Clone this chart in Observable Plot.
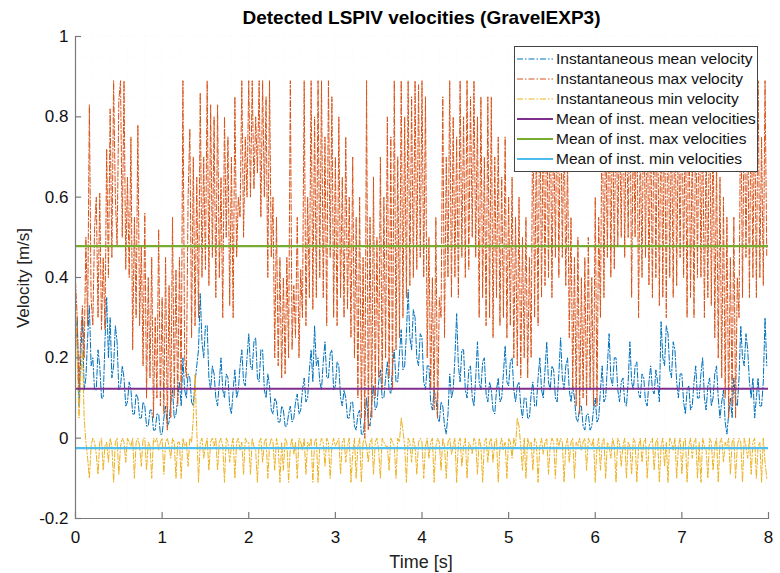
<!DOCTYPE html>
<html>
<head>
<meta charset="utf-8">
<script src="https://cdn.jsdelivr.net/npm/d3@7"></script>
<script src="https://cdn.jsdelivr.net/npm/@observablehq/plot@0.6"></script>
<style>
  html, body { margin: 0; padding: 0; background: #fff; }
  body { font-family: "Liberation Sans", Arial, Helvetica, sans-serif; }
  #wrap { position: relative; width: 780px; height: 573px; }
  #title { position: absolute; left: 75px; width: 693px; top: 7px; text-align: center; font-weight: bold; font-size: 19px; color: #000; }
  #ylab { position: absolute; left: 24px; top: 278px; transform: translate(-50%, -50%) rotate(-90deg); font-size: 17px; color: #222; white-space: nowrap; }
  #xlab { position: absolute; left: 421px; top: 562px; transform: translate(-50%, -50%); font-size: 18px; color: #222; white-space: nowrap; }
  #legend { position: absolute; left: 514px; top: 46px; width: 244px; background: #fff; border: 1px solid #444; padding: 2px 0; box-sizing: border-box; }
  .row { display: flex; align-items: center; height: 20px; font-size: 15.5px; color: #111; white-space: nowrap; }
  .row svg { margin-left: 2px; margin-right: 3px; }
</style>
</head>
<body>
<div id="wrap">
  <div id="chart"></div>
  <div id="title"></div>
  <div id="ylab"></div>
  <div id="xlab"></div>
  <div id="legend"></div>
</div>
<script>
// ---- Data ----
const titleText = "Detected LSPIV velocities (GravelEXP3)";
const xLabel = "Time [s]";
const yLabel = "Velocity [m/s]";

const t0 = 0;      // first sample time [s]
const dt = 0.02;   // sample spacing [s]

const instMean = [
  0.22,0.30,0.08,0.20,0.30,0.12,0.15,0.25,0.33,0.18,0.20,0.12,0.12,0.22,0.18,0.10,0.10,0.24,0.35,0.20,
  0.30,0.15,0.18,0.28,0.24,0.12,0.13,0.18,0.15,0.08,0.09,0.14,0.12,0.06,0.06,0.11,0.10,0.05,0.05,0.09,
  0.08,0.03,0.03,0.07,0.07,0.02,0.02,0.06,0.06,0.01,0.01,0.05,0.08,0.03,0.04,0.09,0.12,0.05,0.06,0.10,
  0.14,0.08,0.20,0.12,0.10,0.16,0.15,0.09,0.08,0.14,0.18,0.22,0.36,0.24,0.20,0.28,0.28,0.15,0.12,0.18,
  0.16,0.10,0.08,0.14,0.20,0.12,0.10,0.16,0.15,0.08,0.06,0.12,0.17,0.10,0.12,0.18,0.22,0.14,0.13,0.20,
  0.26,0.18,0.17,0.24,0.25,0.15,0.14,0.22,0.22,0.12,0.10,0.16,0.13,0.07,0.06,0.10,0.09,0.04,0.04,0.08,
  0.07,0.03,0.03,0.06,0.08,0.04,0.05,0.09,0.11,0.06,0.07,0.12,0.15,0.09,0.10,0.17,0.22,0.14,0.28,0.18,
  0.20,0.14,0.12,0.19,0.24,0.15,0.15,0.21,0.22,0.12,0.13,0.19,0.18,0.10,0.08,0.12,0.10,0.05,0.05,0.09,
  0.09,0.03,0.02,0.06,0.07,0.01,0.01,0.05,0.10,0.04,0.03,0.09,0.13,0.07,0.08,0.14,0.17,0.10,0.10,0.15,
  0.19,0.12,0.11,0.18,0.22,0.14,0.14,0.21,0.27,0.17,0.18,0.26,0.37,0.25,0.22,0.32,0.30,0.20,0.18,0.26,
  0.25,0.14,0.12,0.18,0.18,0.09,0.07,0.12,0.10,0.05,0.04,0.09,0.08,0.03,0.01,0.06,0.16,0.10,0.12,0.20,
  0.31,0.18,0.14,0.22,0.22,0.12,0.10,0.17,0.18,0.10,0.08,0.15,0.24,0.14,0.12,0.19,0.20,0.11,0.09,0.14,
  0.12,0.07,0.06,0.12,0.15,0.09,0.10,0.16,0.23,0.14,0.13,0.19,0.20,0.12,0.09,0.13,0.14,0.08,0.05,0.10,
  0.10,0.05,0.05,0.11,0.14,0.08,0.08,0.15,0.20,0.12,0.10,0.17,0.24,0.14,0.12,0.18,0.17,0.10,0.09,0.16,
  0.25,0.15,0.12,0.18,0.20,0.12,0.09,0.13,0.10,0.05,0.04,0.08,0.08,0.03,0.02,0.06,0.06,0.02,0.03,0.07,
  0.10,0.04,0.05,0.12,0.18,0.09,0.10,0.18,0.26,0.15,0.13,0.20,0.20,0.12,0.09,0.14,0.15,0.09,0.08,0.14,
  0.24,0.14,0.12,0.18,0.19,0.11,0.10,0.16,0.15,0.09,0.08,0.14,0.18,0.12,0.11,0.17,0.14,0.09,0.29,0.20,
  0.18,0.28,0.26,0.17,0.15,0.24,0.22,0.14,0.10,0.16,0.16,0.09,0.06,0.12,0.13,0.07,0.08,0.14,0.18,0.10,
  0.10,0.16,0.20,0.10,0.07,0.13,0.15,0.08,0.10,0.16,0.18,0.10,0.05,0.09,0.12,0.04,0.01,0.06,0.10,0.05,
  0.15,0.09,0.08,0.15,0.28,0.20,0.18,0.26,0.22,0.14,0.10,0.15,0.05,0.10,0.15,0.08,0.08,0.14,0.30,0.18
];

const instMax = [
  0.39,0.30,0.12,0.25,0.33,0.20,0.50,0.28,0.83,0.35,0.28,0.52,0.60,0.30,0.61,0.27,0.45,0.27,0.72,0.40,
  0.82,0.45,0.89,0.60,0.48,0.84,0.89,0.50,0.89,0.42,0.65,0.40,0.75,0.22,0.55,0.30,0.78,0.28,0.48,0.18,
  0.56,0.10,0.40,0.15,0.45,0.05,0.30,0.10,0.52,0.08,0.35,0.06,0.45,0.02,0.38,0.05,0.55,0.10,0.42,0.08,
  0.45,0.12,0.89,0.20,0.15,0.60,0.77,0.25,0.70,0.28,0.65,0.30,0.86,0.40,0.70,0.42,0.89,0.38,0.83,0.45,
  0.80,0.35,0.83,0.40,0.65,0.30,0.80,0.50,0.75,0.33,0.70,0.30,0.85,0.45,0.60,0.55,0.89,0.50,0.75,0.60,
  0.89,0.60,0.89,0.62,0.80,0.66,0.89,0.55,0.89,0.60,0.85,0.40,0.89,0.45,0.60,0.20,0.55,0.18,0.45,0.15,
  0.40,0.16,0.45,0.20,0.89,0.22,0.38,0.25,0.55,0.20,0.42,0.30,0.89,0.28,0.60,0.35,0.89,0.32,0.80,0.35,
  0.89,0.40,0.89,0.35,0.75,0.28,0.89,0.45,0.85,0.30,0.70,0.28,0.80,0.35,0.65,0.30,0.75,0.32,0.60,0.25,
  0.70,0.20,0.55,0.10,0.60,0.05,0.45,0.00,0.89,0.02,0.55,0.05,0.65,0.10,0.50,0.15,0.70,0.12,0.60,0.20,
  0.80,0.15,0.75,0.12,0.89,0.22,0.70,0.25,0.89,0.30,0.80,0.35,0.89,0.38,0.85,0.40,0.89,0.42,0.88,0.45,
  0.89,0.40,0.85,0.20,0.50,0.12,0.40,0.07,0.55,0.05,0.35,0.30,0.85,0.25,0.70,0.40,0.89,0.35,0.80,0.40,
  0.75,0.35,0.89,0.45,0.80,0.40,0.89,0.42,0.85,0.50,0.89,0.45,0.80,0.30,0.85,0.35,0.70,0.28,0.85,0.30,
  0.85,0.25,0.70,0.35,0.75,0.28,0.65,0.30,0.75,0.25,0.60,0.28,0.65,0.20,0.55,0.18,0.60,0.15,0.50,0.20,
  0.55,0.15,0.45,0.20,0.89,0.30,0.75,0.28,0.89,0.35,0.80,0.38,0.85,0.40,0.89,0.35,0.80,0.45,0.89,0.40,
  0.89,0.45,0.80,0.38,0.70,0.25,0.55,0.12,0.45,0.08,0.50,0.06,0.40,0.10,0.45,0.08,0.50,0.12,0.40,0.08,
  0.60,0.08,0.55,0.30,0.89,0.35,0.80,0.45,0.89,0.40,0.85,0.42,0.89,0.48,0.80,0.50,0.89,0.45,0.85,0.50,
  0.89,0.35,0.80,0.50,0.89,0.30,0.75,0.40,0.89,0.45,0.85,0.38,0.80,0.35,0.89,0.40,0.85,0.33,0.89,0.35,
  0.85,0.30,0.89,0.40,0.80,0.35,0.89,0.38,0.80,0.45,0.89,0.40,0.85,0.30,0.89,0.35,0.75,0.30,0.85,0.40,
  0.89,0.40,0.80,0.30,0.75,0.35,0.89,0.33,0.80,0.25,0.70,0.20,0.65,0.15,0.60,0.10,0.55,0.05,0.45,0.08,
  0.55,0.05,0.40,0.30,0.89,0.35,0.85,0.45,0.80,0.35,0.89,0.40,0.85,0.35,0.89,0.40,0.75,0.38,0.89,0.45
];

const instMin = [
  0.33,0.20,0.05,0.15,0.22,0.05,-0.01,-0.05,-0.10,-0.02,0.00,-0.01,-0.04,-0.09,-0.01,0.00,-0.08,-0.02,-0.01,-0.06,
  0.00,-0.02,-0.11,-0.01,0.00,-0.09,-0.02,0.00,-0.01,-0.06,0.00,-0.01,-0.02,0.00,-0.10,-0.01,0.00,-0.02,-0.07,0.00,
  0.00,-0.08,-0.01,-0.02,-0.10,0.00,-0.01,0.00,-0.03,-0.01,0.00,-0.09,-0.01,0.00,-0.02,-0.05,0.00,-0.01,-0.10,-0.01,
  -0.01,-0.10,0.00,-0.02,-0.01,-0.07,0.00,-0.01,0.05,0.16,0.02,-0.11,-0.01,0.00,-0.05,-0.02,0.00,-0.08,-0.01,0.00,
  -0.02,0.00,-0.08,-0.01,0.00,-0.02,-0.11,0.00,-0.01,-0.06,-0.02,0.00,-0.10,-0.01,0.00,-0.03,-0.01,-0.09,0.00,-0.01,
  -0.01,-0.09,0.00,-0.02,-0.03,-0.11,-0.01,0.00,-0.06,-0.01,0.00,-0.10,-0.02,0.00,-0.01,-0.08,0.00,-0.02,-0.11,-0.01,
  -0.08,0.00,-0.01,-0.11,-0.02,0.00,-0.04,-0.01,-0.10,0.00,-0.01,-0.03,0.00,-0.09,-0.01,-0.02,0.00,-0.11,-0.01,0.00,
  -0.11,-0.02,0.00,-0.01,-0.07,0.00,-0.01,-0.10,-0.02,0.00,-0.02,-0.01,0.00,-0.09,-0.01,0.00,-0.06,-0.02,0.00,-0.11,
  -0.04,0.00,-0.10,-0.02,0.00,-0.11,-0.01,0.00,-0.02,-0.06,-0.01,0.00,-0.09,-0.01,0.00,-0.03,-0.10,0.00,-0.01,-0.02,
  -0.02,-0.08,0.00,-0.01,-0.02,-0.10,0.00,-0.01,0.05,0.02,-0.02,-0.11,0.00,-0.01,-0.06,0.00,-0.02,-0.09,-0.01,0.00,
  -0.01,-0.10,-0.02,0.00,-0.05,-0.01,0.00,-0.11,-0.02,0.00,-0.01,-0.08,0.00,-0.02,-0.10,-0.01,0.00,-0.04,-0.02,0.00,
  -0.11,-0.01,0.00,-0.07,-0.02,0.00,-0.10,-0.01,-0.02,-0.04,0.00,-0.01,-0.09,0.00,-0.02,-0.11,-0.01,0.00,-0.06,-0.01,
  0.00,-0.06,-0.01,0.00,-0.11,-0.02,0.00,-0.03,-0.01,-0.10,0.00,-0.01,-0.05,0.00,-0.02,0.05,0.03,-0.02,-0.08,0.00,
  -0.10,0.00,-0.02,-0.01,-0.08,0.00,-0.01,-0.11,-0.02,0.00,-0.04,-0.01,0.00,-0.09,-0.02,0.00,-0.01,-0.10,0.00,-0.02,
  0.00,-0.01,-0.11,-0.02,0.00,-0.06,-0.01,0.00,-0.10,-0.01,-0.02,0.00,-0.03,-0.01,0.00,-0.08,0.00,-0.01,-0.02,0.00,
  -0.11,-0.02,0.00,-0.08,-0.01,0.00,-0.10,-0.01,-0.02,-0.05,0.00,-0.02,-0.11,0.00,-0.01,-0.07,-0.02,0.00,-0.10,-0.01,
  -0.02,-0.09,0.00,-0.01,-0.11,-0.02,0.00,-0.06,-0.01,0.00,-0.10,-0.02,-0.01,0.00,-0.08,-0.01,0.00,-0.11,-0.02,0.00,
  -0.07,-0.01,-0.11,0.00,-0.01,-0.03,0.00,-0.10,-0.02,0.00,-0.09,-0.01,0.00,-0.11,-0.02,0.00,-0.05,-0.01,0.00,-0.10,
  -0.01,-0.11,0.00,-0.02,-0.03,-0.10,0.00,-0.01,-0.08,-0.02,0.00,-0.11,-0.01,0.00,-0.06,-0.01,-0.02,0.00,-0.09,-0.01,
  0.00,-0.10,-0.02,0.00,-0.01,-0.11,0.00,-0.02,-0.05,0.00,-0.09,-0.01,0.00,-0.10,-0.02,-0.01,-0.11,0.00,-0.06,-0.10
];

// Means of the instantaneous series (horizontal reference lines)
const meanOfMean = 0.123;
const meanOfMax = 0.478;
const meanOfMin = -0.025;

const seriesNames = [
  "Instantaneous mean velocity",
  "Instantaneous max velocity",
  "Instantaneous min velocity",
  "Mean of inst. mean velocities",
  "Mean of inst. max velocities",
  "Mean of inst. min velocities"
];
const seriesColors = ["#0072BD", "#D95319", "#EDB120", "#7E2F8E", "#77AC30", "#4DBEEE"];

const xTicks = [0, 1, 2, 3, 4, 5, 6, 7, 8];
const yTicks = [-0.2, 0, 0.2, 0.4, 0.6, 0.8, 1];
const xMinor = [0.2, 0.4, 0.6, 0.8, 1.2, 1.4, 1.6, 1.8, 2.2, 2.4, 2.6, 2.8, 3.2, 3.4, 3.6, 3.8,
                4.2, 4.4, 4.6, 4.8, 5.2, 5.4, 5.6, 5.8, 6.2, 6.4, 6.6, 6.8, 7.2, 7.4, 7.6, 7.8];
const yMinor = [-0.15, -0.1, -0.05, 0.05, 0.1, 0.15, 0.25, 0.3, 0.35, 0.45, 0.5, 0.55,
                0.65, 0.7, 0.75, 0.85, 0.9, 0.95];

// ---- Build tables ----
const toRows = (arr) => arr.map((v, i) => ({t: t0 + i * dt, v}));
const meanRows = toRows(instMean);
const maxRows = toRows(instMax);
const minRows = toRows(instMin);

const W = 780, H = 573, mL = 75, mR = 12, mT = 36, mB = 55;
const plotW = W - mL - mR, plotH = H - mT - mB;
const dashDot = "6,2,1.5,2";
const gridStyle = {stroke: "#bdbdbd", strokeWidth: 0.8, strokeDasharray: "1,2"};
const axisColor = "#7a7a7a";

const chart = Plot.plot({
  width: W, height: H,
  marginLeft: mL, marginRight: mR, marginTop: mT, marginBottom: mB,
  style: {fontFamily: "'Liberation Sans', Arial, Helvetica, sans-serif", fontSize: "16px", background: "#fff", color: "#222"},
  x: {domain: [0, 8]},
  y: {domain: [-0.2, 1]},
  marks: [
    Plot.gridX(xMinor, gridStyle),
    Plot.gridY(yMinor, gridStyle),
    Plot.gridX(xTicks, {...gridStyle, stroke: "#b0b0b0"}),
    Plot.gridY(yTicks, {...gridStyle, stroke: "#b0b0b0"}),
    Plot.line(meanRows, {x: "t", y: "v", stroke: seriesColors[0], strokeWidth: 1, strokeDasharray: dashDot}),
    Plot.line(maxRows, {x: "t", y: "v", stroke: seriesColors[1], strokeWidth: 1, strokeDasharray: dashDot}),
    Plot.line(minRows, {x: "t", y: "v", stroke: seriesColors[2], strokeWidth: 1, strokeDasharray: dashDot}),
    Plot.ruleY([meanOfMean], {stroke: seriesColors[3], strokeWidth: 2.2}),
    Plot.ruleY([meanOfMax], {stroke: seriesColors[4], strokeWidth: 2.2}),
    Plot.ruleY([meanOfMin], {stroke: seriesColors[5], strokeWidth: 2.2}),
    // axis lines (left and bottom)
    Plot.frame({anchor: "left", stroke: axisColor, strokeWidth: 1.2}),
    Plot.frame({anchor: "bottom", stroke: axisColor, strokeWidth: 1.2}),
    // inward tick marks
    Plot.tickX(xTicks, {x: d => d, stroke: axisColor, strokeWidth: 1.2, insetTop: plotH - 6}),
    Plot.tickY(yTicks, {y: d => d, stroke: axisColor, strokeWidth: 1.2, insetRight: plotW - 6}),
    Plot.axisX(xTicks, {tickSize: 0, tickPadding: 12, fontSize: 17, label: null, tickFormat: d => String(d), fill: "#111"}),
    Plot.axisY(yTicks, {tickSize: 0, tickPadding: 7, fontSize: 17, label: null, tickFormat: d => String(+d.toFixed(1)), fill: "#111"})
  ]
});
document.getElementById("chart").appendChild(chart);

document.getElementById("title").textContent = titleText;
document.getElementById("ylab").textContent = yLabel;
document.getElementById("xlab").textContent = xLabel;

// ---- Legend ----
const legend = document.getElementById("legend");
seriesNames.forEach((name, i) => {
  const row = document.createElement("div");
  row.className = "row";
  const dashed = i < 3;
  row.innerHTML = `<svg width="36" height="20"><line x1="0" y1="10" x2="36" y2="10" stroke="${seriesColors[i]}" stroke-width="${dashed ? 1 : 2.2}" ${dashed ? `stroke-dasharray="${dashDot}"` : ""}/></svg><span>${name}</span>`;
  legend.appendChild(row);
});
</script>
</body>
</html>
